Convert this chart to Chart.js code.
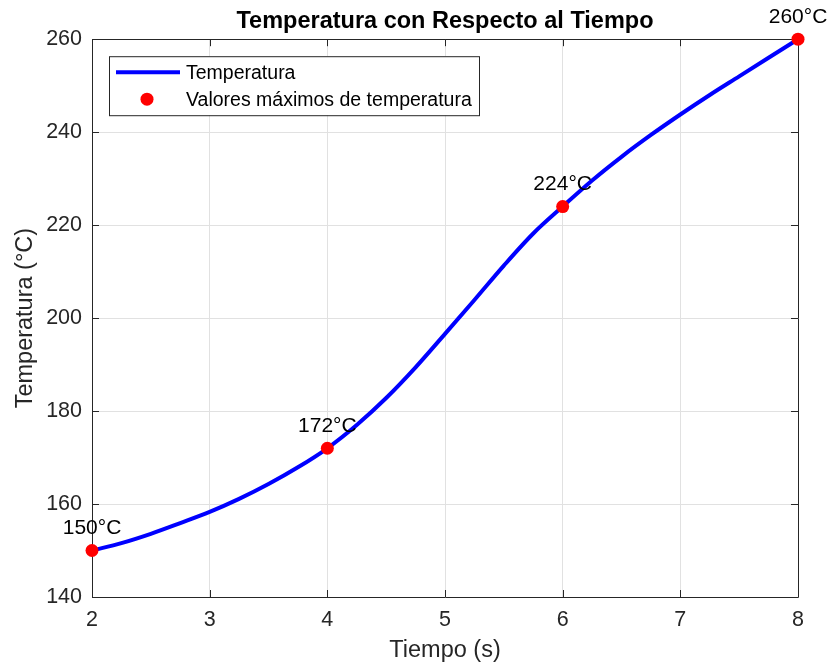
<!DOCTYPE html>
<html>
<head>
<meta charset="utf-8">
<script src="https://cdn.jsdelivr.net/npm/chart.js@4"></script>
<style>
  html, body { margin: 0; padding: 0; background: #fff; }
  #wrap { width: 830px; height: 666px; }
</style>
</head>
<body>
<div id="wrap"><canvas id="c" width="830" height="666"></canvas></div>
<script>
// Temperature curve sampled along time (s)
const curveTime = [2, 2.25, 2.5, 2.75, 3, 3.25, 3.5, 3.75, 4, 4.25, 4.5, 4.75, 5,
                   5.25, 5.5, 5.75, 6, 6.25, 6.5, 6.75, 7, 7.25, 7.5, 7.75, 8];
const curveTemp = [150, 151.6, 153.6, 155.9, 158.3, 161.1, 164.3, 167.9, 172, 177.0, 182.8, 189.4, 196.6,
                   203.9, 211.3, 218.2, 224, 229.6, 234.7, 239.4, 243.8, 248.0, 252.0, 256.0, 260];

// Highlighted temperature values
const peakTime = [2, 4, 6, 8];
const peakTemp = [150, 172, 224, 260];

const seriesNames = ['Temperatura', 'Valores máximos de temperatura'];
const titleText = 'Temperatura con Respecto al Tiempo';
const xTitle = 'Tiempo (s)';
const yTitle = 'Temperatura (°C)';
const xTicks = [2, 3, 4, 5, 6, 7, 8];
const yTicks = [140, 160, 180, 200, 220, 240, 260];

const AXIS = '#262626';
const GRID = '#e1e1e1';
const FONT = '"Liberation Sans", Arial, Helvetica, sans-serif';

// Axes box with inward tick marks, drawn after the grid and before the data
const axesBox = {
  id: 'axesBox',
  beforeDatasetsDraw(chart) {
    const { ctx, chartArea: a, scales: { x, y } } = chart;
    const len = 7;
    ctx.save();
    ctx.strokeStyle = AXIS;
    ctx.lineWidth = 1;
    ctx.beginPath();
    ctx.rect(Math.round(a.left) + 0.5, Math.round(a.top) + 0.5,
             Math.round(a.right - a.left), Math.round(a.bottom - a.top));
    xTicks.forEach(v => {
      const px = Math.round(x.getPixelForValue(v)) + 0.5;
      ctx.moveTo(px, a.bottom); ctx.lineTo(px, a.bottom - len);
      ctx.moveTo(px, a.top); ctx.lineTo(px, a.top + len);
    });
    yTicks.forEach(v => {
      const py = Math.round(y.getPixelForValue(v)) + 0.5;
      ctx.moveTo(a.left, py); ctx.lineTo(a.left + len, py);
      ctx.moveTo(a.right, py); ctx.lineTo(a.right - len, py);
    });
    ctx.stroke();
    ctx.restore();
  }
};

// Value labels above the highlighted points and the legend box
const overlay = {
  id: 'overlay',
  afterDatasetsDraw(chart) {
    const { ctx, chartArea: a, scales: { x, y } } = chart;
    ctx.save();
    ctx.fillStyle = '#000';
    ctx.font = '21px ' + FONT;
    ctx.textAlign = 'center';
    ctx.textBaseline = 'middle';
    peakTime.forEach((t, i) => {
      ctx.fillText(peakTemp[i] + '°C', x.getPixelForValue(t), y.getPixelForValue(peakTemp[i] + 5) + 1);
    });

    // legend
    const lx = a.left + 17, ly = a.top + 17, lw = 370, lh = 59;
    ctx.fillStyle = '#fff';
    ctx.fillRect(lx, ly, lw, lh);
    ctx.strokeStyle = AXIS;
    ctx.lineWidth = 1;
    ctx.strokeRect(lx + 0.5, ly + 0.5, lw, lh);
    const ds = chart.data.datasets;
    ctx.strokeStyle = ds[0].borderColor;
    ctx.lineWidth = 4;
    ctx.beginPath();
    ctx.moveTo(lx + 7, ly + 16); ctx.lineTo(lx + 71, ly + 16);
    ctx.stroke();
    ctx.fillStyle = ds[1].backgroundColor;
    ctx.beginPath();
    ctx.arc(lx + 38, ly + 43, 6.5, 0, Math.PI * 2);
    ctx.fill();
    ctx.fillStyle = '#000';
    ctx.font = '19.5px ' + FONT;
    ctx.textAlign = 'left';
    ctx.fillText(ds[0].label, lx + 77, ly + 17);
    ctx.fillText(ds[1].label, lx + 77, ly + 44);
    ctx.restore();
  }
};

new Chart(document.getElementById('c'), {
  type: 'line',
  data: {
    datasets: [
      {
        label: seriesNames[0],
        data: curveTime.map((t, i) => ({ x: t, y: curveTemp[i] })),
        borderColor: '#0000ff',
        borderWidth: 4,
        pointRadius: 0,
        cubicInterpolationMode: 'monotone',
        fill: false,
        clip: false,
        order: 2
      },
      {
        type: 'scatter',
        label: seriesNames[1],
        data: peakTime.map((t, i) => ({ x: t, y: peakTemp[i] })),
        backgroundColor: '#ff0000',
        borderColor: '#ff0000',
        borderWidth: 0,
        pointRadius: 6.5,
        showLine: false,
        clip: false,
        order: 1
      }
    ]
  },
  options: {
    responsive: false,
    animation: false,
    events: [],
    layout: { padding: { left: 0, right: 32, top: 0, bottom: 0 } },
    plugins: {
      legend: { display: false },
      tooltip: { enabled: false },
      title: {
        display: true,
        text: titleText,
        fullSize: false,
        color: '#000',
        font: { family: FONT, size: 23.5, weight: 'bold', lineHeight: 1.2 },
        padding: { top: 7, bottom: 4 }
      }
    },
    scales: {
      x: {
        type: 'linear',
        min: 2, max: 8,
        afterBuildTicks(s) { s.ticks = xTicks.map(v => ({ value: v })); },
        afterFit(s) { s.height = 69; },
        grid: { color: GRID, drawTicks: false, lineWidth: 1 },
        border: { display: false },
        ticks: { color: AXIS, font: { family: FONT, size: 21.5 }, padding: 10, maxRotation: 0 },
        title: { display: true, text: xTitle, color: AXIS,
                 font: { family: FONT, size: 23.5 }, padding: { top: 0, bottom: 1 } }
      },
      y: {
        min: 140, max: 260,
        afterBuildTicks(s) { s.ticks = yTicks.map(v => ({ value: v })); },
        afterFit(s) { s.width = 92; },
        grid: { color: GRID, drawTicks: false, lineWidth: 1 },
        border: { display: false },
        ticks: { color: AXIS, font: { family: FONT, size: 21.5 }, padding: 10 },
        title: { display: true, text: yTitle, color: AXIS,
                 font: { family: FONT, size: 23.5 }, padding: { top: 11, bottom: 0 } }
      }
    }
  },
  plugins: [axesBox, overlay]
});
</script>
</body>
</html>
